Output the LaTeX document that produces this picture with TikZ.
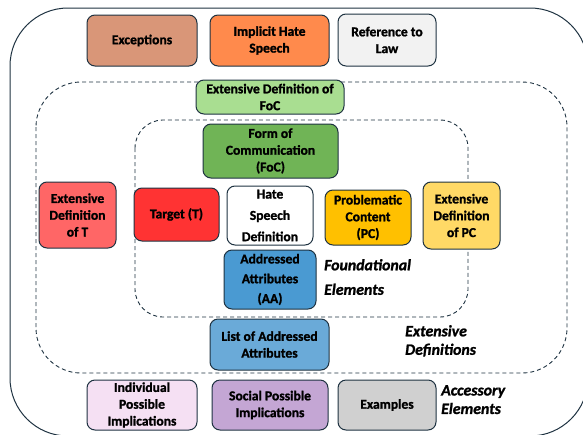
\documentclass[tikz,border=0pt]{standalone}
\usepackage{fontspec}
\setmainfont{Carlito}[BoldFeatures={FakeBold=1.3},BoldItalicFeatures={FakeBold=1.3}]
\usetikzlibrary{positioning}

\definecolor{edge}{RGB}{30,50,65}
\definecolor{excfill}{RGB}{217,150,120}
\definecolor{implfill}{RGB}{255,138,76}
\definecolor{lawfill}{RGB}{242,242,242}
\definecolor{extfocfill}{RGB}{169,222,145}
\definecolor{focfill}{RGB}{112,180,86}
\definecolor{exttfill}{RGB}{255,102,102}
\definecolor{tfill}{RGB}{255,51,51}
\definecolor{pcfill}{RGB}{255,192,0}
\definecolor{extpcfill}{RGB}{255,217,102}
\definecolor{aafill}{RGB}{74,154,210}
\definecolor{listfill}{RGB}{106,170,216}
\definecolor{indfill}{RGB}{245,224,243}
\definecolor{socfill}{RGB}{196,166,212}
\definecolor{exfill}{RGB}{208,208,208}

\tikzset{
  box/.style={draw=edge,line width=1pt,rounded corners=8pt,align=center,inner sep=0pt,
    font=\fontsize{13.6}{16.8}\selectfont\bfseries},
  group/.style={draw=edge,line width=0.9pt,dash pattern=on 4pt off 3pt},
  grouplabel/.style={align=left,anchor=north west,inner sep=0pt,
    font=\fontsize{15.8}{18.5}\selectfont\bfseries\itshape}
}

\begin{document}
\begin{tikzpicture}[x=1pt,y=-1pt]
        \useasboundingbox (0,0) rectangle (583,434);
        \clip (0,0) rectangle (583,434);
        % outer frame and groups
        \draw[edge,line width=1pt,rounded corners=58pt] (10,8) rectangle (588,436);
        \draw[group,rounded corners=45pt] (36,82) rectangle (567,373);
        \draw[group,rounded corners=28pt] (135,120) rectangle (468,317);
        % top row
        \node[box,fill=excfill,minimum width=110pt,minimum height=51pt] (exceptions) at (142,40.5) {Exceptions};
        \node[box,fill=implfill,minimum width=119pt,minimum height=51pt] (implicit) at (269.5,40.5) {Implicit Hate\\Speech};
        \node[box,fill=lawfill,minimum width=98pt,minimum height=52pt] (law) at (387,40) {Reference to\\Law};
        % extensive definitions
        \node[box,fill=extfocfill,minimum width=148pt,minimum height=34pt] (extfoc) at (270,97) {Extensive Definition of\\FoC};
        \node[box,fill=exttfill,minimum width=77pt,minimum height=66pt] (extt) at (77.5,215) {Extensive\\Definition\\of T};
        \node[box,fill=extpcfill,minimum width=77pt,minimum height=67pt] (extpc) at (461.5,215.5) {Extensive\\Definition\\of PC};
        \node[box,fill=listfill,minimum width=119pt,minimum height=51pt] (list) at (269.5,344.5) {List of Addressed\\Attributes};
        % foundational elements
        \node[box,fill=focfill,minimum width=135pt,minimum height=54pt] (foc) at (270.5,151) {Form of\\Communication\\(FoC)};
        \node[box,fill=tfill,minimum width=85pt,minimum height=53pt] (target) at (176.5,214.5) {Target (T)};
        \node[box,fill=white,minimum width=86pt,minimum height=59pt] (hsd) at (270,215.5) {Hate\\[4.5pt]Speech\\[4.5pt]Definition};
        \node[box,fill=pcfill,minimum width=86pt,minimum height=55pt] (pc) at (368,217.5) {Problematic\\Content\\(PC)};
        \node[box,fill=aafill,minimum width=92pt,minimum height=59pt] (aa) at (270,279.5) {Addressed\\[3pt]Attributes\\[3pt](AA)};
        % accessory elements
        \node[box,fill=indfill,minimum width=110pt,minimum height=50pt] (individual) at (142,405) {Individual\\Possible\\Implications};
        \node[box,fill=socfill,minimum width=116pt,minimum height=50pt] (social) at (270,405) {Social Possible\\Implications};
        \node[box,fill=exfill,minimum width=98pt,minimum height=50pt] (examples) at (387,405) {Examples};
        % group labels
        \node[grouplabel] (foundlbl) at (324,259) {Foundational\\[6pt]Elements};
        \node[grouplabel] (extlbl) at (405,325) {Extensive\\Definitions};
        \node[grouplabel] (acclbl) at (441,385) {Accessory\\Elements};
\end{tikzpicture}
\end{document}
